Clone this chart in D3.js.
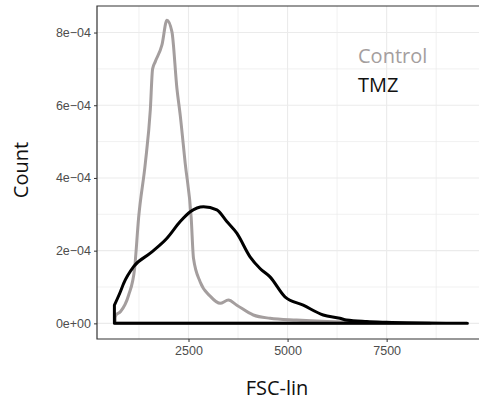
<!DOCTYPE html>
<html>
<head>
<meta charset="utf-8">
<script src="https://cdn.jsdelivr.net/npm/d3@7"></script>
<style>
  body { margin: 0; background: #fff; }
  svg { display: block; font-family: "Open Sans", "Noto Sans", sans-serif; }
  .grid line { stroke: #ebebeb; }
  .axis path { display: none; }
  .axis line { stroke: #333; }
  .axis text { fill: #4d4d4d; font-size: 12.5px; }
</style>
</head>
<body>
<div id="chart"></div>
<script>
// FSC-lin values and density estimates
var controlFsc = [650, 672, 781, 990, 1140, 1241, 1410, 1536, 1594, 1662, 1830, 1956, 2082, 2208, 2291, 2417, 2568, 2626, 2795, 3046, 3298, 3507, 3719, 4136, 4557, 5229, 6000, 7000, 8000, 8600];
var controlDensity = [1.6e-5, 2.3e-5, 3.2e-5, 7.8e-5, 1.51e-4, 2.9e-4, 4.4e-4, 5.87e-4, 7.0e-4, 7.2e-4, 7.66e-4, 8.34e-4, 8.02e-4, 6.46e-4, 5.73e-4, 4.4e-4, 2.9e-4, 1.79e-4, 1.14e-4, 7.5e-5, 5.5e-5, 6.4e-5, 5.0e-5, 2.3e-5, 1.4e-5, 9e-6, 5e-6, 2e-6, 5e-7, 0];

var tmzFsc = [630, 781, 864, 1115, 1536, 1956, 2291, 2543, 2878, 3215, 3467, 3719, 4053, 4305, 4557, 4934, 5395, 5899, 6319, 6488, 7000, 7500, 8000, 9000, 9537];
var tmzDensity = [5.0e-5, 8.7e-5, 1.10e-4, 1.56e-4, 1.93e-4, 2.34e-4, 2.80e-4, 3.07e-4, 3.21e-4, 3.12e-4, 2.80e-4, 2.48e-4, 1.83e-4, 1.51e-4, 1.28e-4, 7.3e-5, 5.0e-5, 2.3e-5, 1.4e-5, 9e-6, 5e-6, 3e-6, 1.5e-6, 5e-7, 0];

var xTicks = [2500, 5000, 7500];
var xMinor = [1250, 3750, 6250, 8750];
var yTicks = [0, 2e-4, 4e-4, 6e-4, 8e-4];
var yMinor = [1e-4, 3e-4, 5e-4, 7e-4];
var yTickLabels = ["0e+00", "2e\u221204", "4e\u221204", "6e\u221204", "8e\u221204"];

var seriesNames = ["Control", "TMZ"];
var seriesColors = ["#a49e9e", "#000000"];

var width = 479, height = 405;
var margin = {top: 6, right: -6, bottom: 66, left: 97};

var svg = d3.select("#chart").append("svg")
    .attr("width", width)
    .attr("height", height);

var x = d3.scaleLinear()
    .domain([191, 9982])
    .range([margin.left, width - margin.right]);

var y = d3.scaleLinear()
    .domain([-0.43e-4, 8.73e-4])
    .range([height - margin.bottom, margin.top]);

var x0 = margin.left, x1 = width - margin.right,
    y0 = height - margin.bottom, y1 = margin.top;

svg.append("clipPath").attr("id", "panel")
  .append("rect")
    .attr("x", x0).attr("y", y1)
    .attr("width", x1 - x0).attr("height", y0 - y1);

// grid
var grid = svg.append("g").attr("class", "grid");
grid.selectAll("line.vminor").data(xMinor).enter().append("line")
    .attr("x1", d => x(d)).attr("x2", d => x(d))
    .attr("y1", y1).attr("y2", y0).attr("stroke-width", 0.7);
grid.selectAll("line.hminor").data(yMinor).enter().append("line")
    .attr("x1", x0).attr("x2", x1)
    .attr("y1", d => y(d)).attr("y2", d => y(d)).attr("stroke-width", 0.7);
grid.selectAll("line.vmajor").data(xTicks).enter().append("line")
    .attr("x1", d => x(d)).attr("x2", d => x(d))
    .attr("y1", y1).attr("y2", y0).attr("stroke-width", 1.1);
grid.selectAll("line.hmajor").data(yTicks).enter().append("line")
    .attr("x1", x0).attr("x2", x1)
    .attr("y1", d => y(d)).attr("y2", d => y(d)).attr("stroke-width", 1.1);

// density polygons (curve plus baseline, like geom_density)
function densityPath(fsc, dens) {
  var pts = fsc.map((f, i) => [x(f), y(dens[i])]);
  var curve = d3.line().curve(d3.curveMonotoneX)(pts);
  var first = pts[0], last = pts[pts.length - 1];
  return "M" + first[0] + "," + y(0) + "L" + curve.slice(1) +
         "L" + last[0] + "," + y(0) + "Z";
}

var plot = svg.append("g").attr("clip-path", "url(#panel)");
plot.append("path")
    .attr("d", densityPath(controlFsc, controlDensity))
    .attr("fill", "none")
    .attr("stroke", seriesColors[0])
    .attr("stroke-width", 3)
    .attr("stroke-linejoin", "round");
plot.append("path")
    .attr("d", densityPath(tmzFsc, tmzDensity))
    .attr("fill", "none")
    .attr("stroke", seriesColors[1])
    .attr("stroke-width", 3)
    .attr("stroke-linejoin", "round");

// panel border (left, top, bottom)
svg.append("path")
    .attr("d", "M" + x1 + "," + y1 + "H" + x0 + "V" + y0 + "H" + x1)
    .attr("fill", "none")
    .attr("stroke", "#333")
    .attr("stroke-width", 1.2);

// axes
var xAxis = d3.axisBottom(x).tickValues(xTicks).tickSize(3).tickPadding(4)
    .tickFormat(d3.format("d"));
svg.append("g").attr("class", "axis")
    .attr("transform", "translate(0," + y0 + ")")
    .call(xAxis);

var yAxis = d3.axisLeft(y).tickValues(yTicks).tickSize(3).tickPadding(3)
    .tickFormat((d, i) => yTickLabels[i]);
svg.append("g").attr("class", "axis")
    .attr("transform", "translate(" + x0 + ",0)")
    .call(yAxis);

// axis titles
svg.append("text")
    .attr("x", 277).attr("y", 395)
    .attr("text-anchor", "middle")
    .attr("font-size", 20)
    .attr("fill", "#111")
    .text("FSC-lin");

svg.append("text")
    .attr("transform", "translate(28,170) rotate(-90)")
    .attr("text-anchor", "middle")
    .attr("font-size", 20)
    .attr("fill", "#111")
    .text("Count");

// legend labels
svg.selectAll("text.legend").data(seriesNames).enter().append("text")
    .attr("class", "legend")
    .attr("x", 358)
    .attr("y", (d, i) => 63 + i * 29)
    .attr("font-size", 20)
    .attr("fill", (d, i) => seriesColors[i] === "#000000" ? "#111" : seriesColors[i])
    .text(d => d);
</script>
</body>
</html>
